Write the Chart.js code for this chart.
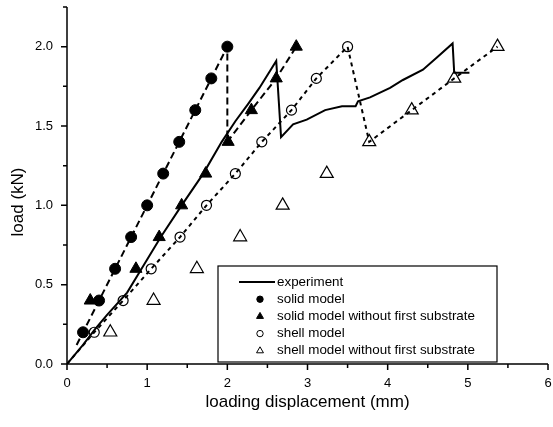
<!DOCTYPE html>
<html>
<head>
<meta charset="utf-8">
<script src="https://cdn.jsdelivr.net/npm/chart.js@4.4.0/dist/chart.umd.min.js"></script>
<style>
body{margin:0;background:#fff}
</style>
</head>
<body>
<canvas id="line-chart" width="553" height="427"></canvas>
<script>
// axis ticks
var xTicks = [0, 1, 2, 3, 4, 5, 6];
var yTicks = [0, 0.5, 1.0, 1.5, 2.0];

// experiment (solid line)
var expX = [0, 0.2, 0.35, 0.5, 0.75, 0.93, 1.17, 1.43, 1.7, 1.93, 2.1, 2.26, 2.4, 2.61, 2.67, 2.82, 2.99, 3.22, 3.43, 3.6, 3.63, 3.78, 4.03, 4.19, 4.44, 4.61, 4.81, 4.83, 5.02];
var expY = [0, 0.12, 0.22, 0.31, 0.45, 0.6, 0.8, 1.0, 1.2, 1.4, 1.53, 1.64, 1.74, 1.91, 1.43, 1.51, 1.54, 1.6, 1.625, 1.625, 1.656, 1.68, 1.74, 1.79, 1.855, 1.93, 2.02, 1.835, 1.835];

// solid model (filled circles)
var solidX = [0.2, 0.4, 0.6, 0.8, 1.0, 1.2, 1.4, 1.6, 1.8, 2.0];
var solidY = [0.2, 0.4, 0.6, 0.8, 1.0, 1.2, 1.4, 1.6, 1.8, 2.0];

// solid model without first substrate (filled triangles)
var solidNoSubX = [0.29, 0.86, 1.15, 1.43, 1.73, 2.01, 2.3, 2.61, 2.86];
var solidNoSubY = [0.4, 0.6, 0.8, 1.0, 1.2, 1.4, 1.6, 1.8, 2.0];

// shell model (open circles)
var shellX = [0.34, 0.70, 1.05, 1.41, 1.74, 2.1, 2.43, 2.8, 3.11, 3.5];
var shellY = [0.2, 0.4, 0.6, 0.8, 1.0, 1.2, 1.4, 1.6, 1.8, 2.0];

// shell model without first substrate (open triangles)
var shellNoSubX = [0.54, 1.08, 1.62, 2.16, 2.69, 3.24, 3.77, 4.3, 4.83, 5.37];
var shellNoSubY = [0.2, 0.4, 0.6, 0.8, 1.0, 1.2, 1.4, 1.6, 1.8, 2.0];

// dashed model curves
var solidCurveX = [0.12, 0.2, 0.4, 0.6, 0.8, 1.0, 1.2, 1.4, 1.6, 1.8, 2.0, 2.0, 2.3, 2.61, 2.86];
var solidCurveY = [0.12, 0.2, 0.4, 0.6, 0.8, 1.0, 1.2, 1.4, 1.6, 1.8, 2.0, 1.4, 1.6, 1.8, 2.0];
var shellCurveX = [0, 0.34, 0.70, 1.05, 1.41, 1.74, 2.1, 2.43, 2.8, 3.11, 3.5, 3.77, 4.3, 4.83, 5.37];
var shellCurveY = [0, 0.2, 0.4, 0.6, 0.8, 1.0, 1.2, 1.4, 1.6, 1.8, 2.0, 1.4, 1.6, 1.8, 2.0];

var FONT = '"Liberation Sans", Arial, sans-serif';

function pts(xs, ys){
    var out = [];
    for(var i = 0; i < xs.length; i++){
        out.push({x: xs[i], y: ys[i]});
    }
    return out;
}

// ticks, axis titles and the boxed legend
const paperStyle = {
    id: 'paperStyle',
    afterDraw(chart){
        const ctx = chart.ctx;
        const xs = chart.scales.x, ys = chart.scales.y;
        const a = chart.chartArea;
        ctx.save();
        ctx.strokeStyle = '#000';
        ctx.lineWidth = 1.5;
        ctx.beginPath();
        ctx.moveTo(a.left, a.top);
        ctx.lineTo(a.left, a.bottom);
        ctx.lineTo(a.right, a.bottom);
        for(var i = 0; i < xTicks.length; i++){
            var px = xs.getPixelForValue(xTicks[i]);
            ctx.moveTo(px, a.bottom); ctx.lineTo(px, a.bottom + 6);
            if(i < xTicks.length - 1){
                var mx = xs.getPixelForValue((xTicks[i] + xTicks[i+1]) / 2);
                ctx.moveTo(mx, a.bottom); ctx.lineTo(mx, a.bottom + 4);
            }
        }
        for(var j = 0; j < yTicks.length; j++){
            var py = ys.getPixelForValue(yTicks[j]);
            ctx.moveTo(a.left, py); ctx.lineTo(a.left - 6, py);
            var my = ys.getPixelForValue(yTicks[j] + 0.25);
            ctx.moveTo(a.left, my); ctx.lineTo(a.left - 4, my);
        }
        ctx.stroke();

        // axis titles
        ctx.fillStyle = '#000';
        ctx.font = '17px ' + FONT;
        ctx.textAlign = 'center';
        ctx.textBaseline = 'alphabetic';
        ctx.fillText('loading displacement (mm)', (a.left + a.right) / 2, 407);
        ctx.save();
        ctx.translate(23, 202);
        ctx.rotate(-Math.PI / 2);
        ctx.fillText('load (kN)', 0, 0);
        ctx.restore();

        // legend
        const bx = 218, by = 266, bw = 279, bh = 96;
        ctx.fillStyle = '#fff';
        ctx.fillRect(bx, by, bw, bh);
        ctx.lineWidth = 1.2;
        ctx.strokeRect(bx, by, bw, bh);
        ctx.font = '13.4px ' + FONT;
        ctx.textAlign = 'left';
        ctx.textBaseline = 'middle';
        var rowY = by + 16;
        chart.data.datasets.forEach(function(ds){
            if(!ds.label) return;
            ctx.strokeStyle = '#000';
            if(ds.showLine){
                ctx.lineWidth = 2;
                ctx.setLineDash([]);
                ctx.beginPath();
                ctx.moveTo(239, rowY); ctx.lineTo(275, rowY);
                ctx.stroke();
            } else {
                ctx.fillStyle = ds.backgroundColor;
                ctx.lineWidth = 1;
                Chart.helpers.drawPoint(ctx, {
                    pointStyle: ds.pointStyle,
                    radius: ds.pointStyle === 'triangle' ? 4 : 3.2,
                    borderWidth: 1
                }, 260, rowY);
            }
            ctx.fillStyle = '#000';
            ctx.fillText(ds.label, 277, rowY);
            rowY += 17.2;
        });
        ctx.restore();
    }
};

function noPadding(s){
    s.paddingTop = 0; s.paddingBottom = 0;
    s.paddingLeft = 0; s.paddingRight = 0;
}

new Chart(document.getElementById("line-chart"), {
    type: 'scatter',
    data: {
        datasets: [
            {
                label: 'experiment',
                data: pts(expX, expY),
                showLine: true,
                borderColor: '#000',
                borderWidth: 2,
                pointRadius: 0,
                tension: 0
            },
            {
                label: 'solid model',
                data: pts(solidX, solidY),
                pointStyle: 'circle',
                pointRadius: 5.5,
                backgroundColor: '#000',
                borderColor: '#000',
                borderWidth: 1
            },
            {
                label: 'solid model without first substrate',
                data: pts(solidNoSubX, solidNoSubY),
                pointStyle: 'triangle',
                pointRadius: 7,
                backgroundColor: '#000',
                borderColor: '#000',
                borderWidth: 1
            },
            {
                label: 'shell model',
                data: pts(shellX, shellY),
                pointStyle: 'circle',
                pointRadius: 5,
                backgroundColor: 'rgba(255,255,255,0)',
                borderColor: '#000',
                borderWidth: 1.2
            },
            {
                label: 'shell model without first substrate',
                data: pts(shellNoSubX, shellNoSubY),
                pointStyle: 'triangle',
                pointRadius: 7.5,
                backgroundColor: 'rgba(255,255,255,0)',
                borderColor: '#000',
                borderWidth: 1.2
            },
            {
                data: pts(solidCurveX, solidCurveY),
                showLine: true,
                borderColor: '#000',
                borderWidth: 2,
                borderDash: [7, 4],
                pointRadius: 0
            },
            {
                data: pts(shellCurveX, shellCurveY),
                showLine: true,
                borderColor: '#000',
                borderWidth: 2,
                borderDash: [4, 4],
                pointRadius: 0
            }
        ]
    },
    options: {
        responsive: false,
        animation: false,
        events: [],
        layout: { autoPadding: false, padding: { top: 7, right: 5, left: 0, bottom: 0 } },
        scales: {
            x: {
                type: 'linear',
                min: 0,
                max: 6,
                grid: { display: false, drawTicks: false },
                border: { display: false },
                afterBuildTicks: function(s){ s.ticks = xTicks.map(function(v){ return {value: v}; }); },
                afterFit: function(s){ s.height = 63; noPadding(s); },
                ticks: {
                    color: '#000',
                    padding: 12,
                    maxRotation: 0,
                    font: { family: FONT, size: 13 },
                    callback: function(v){ return String(v); }
                }
            },
            y: {
                type: 'linear',
                min: 0,
                max: 2.25,
                grid: { display: false, drawTicks: false },
                border: { display: false },
                afterBuildTicks: function(s){ s.ticks = yTicks.map(function(v){ return {value: v}; }); },
                afterFit: function(s){ s.width = 67; noPadding(s); },
                ticks: {
                    color: '#000',
                    padding: 14,
                    font: { family: FONT, size: 13 },
                    callback: function(v){ return v.toFixed(1); }
                }
            }
        },
        plugins: {
            legend: { display: false },
            tooltip: { enabled: false }
        }
    },
    plugins: [paperStyle]
});
</script>
</body>
</html>
